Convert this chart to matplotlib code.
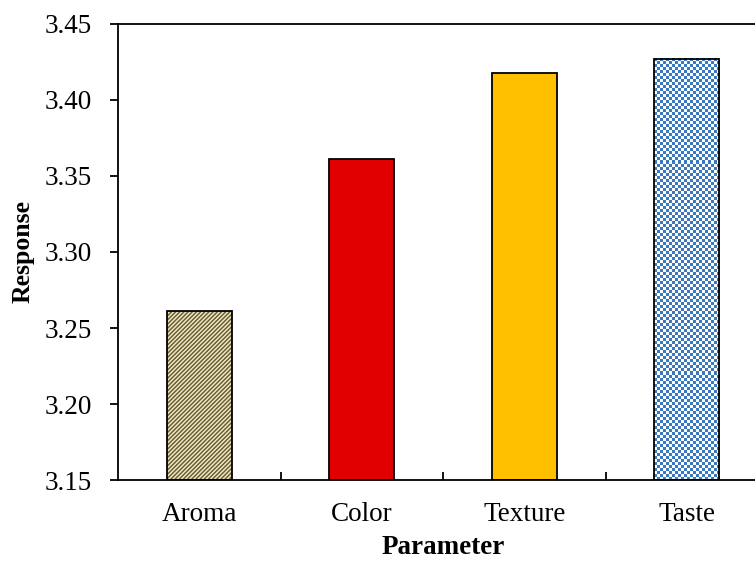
import numpy as np
import matplotlib
matplotlib.use('Agg')
import matplotlib.pyplot as plt
from matplotlib.colors import ListedColormap

categories = ['Aroma', 'Color', 'Texture', 'Taste']
responses = [3.261, 3.361, 3.418, 3.427]

face_colors = ['#f3ecd0', '#e00000', '#ffc000', '#ffffff']
hatch_colors = ['#6b5f30', None, None, '#3a78c4']
patterns = ['stripes', None, None, 'checker']

plt.rcParams['font.family'] = ['Liberation Serif', 'DejaVu Serif']
plt.rcParams['hatch.linewidth'] = 1.1

fig = plt.figure(figsize=(7.55, 5.63), dpi=100)
ax = fig.add_axes([0.1563, 0.1474, 0.861, 0.81])

ymin = 3.15
x = np.arange(len(categories))
for xi, val, fc, hc, p in zip(x, responses, face_colors, hatch_colors, patterns):
    if p == 'stripes':
        ax.bar(xi, val - ymin, bottom=ymin, width=0.4, color=fc,
               edgecolor=hc, hatch='////////', linewidth=0, zorder=2)
    elif p == 'checker':
        # small checkerboard fill, about 3 px per square
        nx, ny = 22, 140
        board = (np.add.outer(np.arange(ny), np.arange(nx)) % 2)
        ax.imshow(board, cmap=ListedColormap([fc, hc]), aspect='auto',
                  interpolation='nearest', origin='lower',
                  extent=(xi - 0.2, xi + 0.2, ymin, val), zorder=2)
    else:
        ax.bar(xi, val - ymin, bottom=ymin, width=0.4, color=fc,
               linewidth=0, zorder=2)
    ax.bar(xi, val - ymin, bottom=ymin, width=0.4, fill=False,
           edgecolor='black', linewidth=1.3, zorder=3)

ax.set_xlim(-0.5, 3.5)
ax.set_ylim(3.15, 3.45)
yt = np.arange(3.15, 3.4501, 0.05)
ax.set_yticks(yt)
ax.set_yticklabels(['%.2f' % v for v in yt])
ax.set_xticks(x)
ax.set_xticklabels(categories)
ax.set_xticks([0.5, 1.5, 2.5], minor=True)

ax.tick_params(axis='y', direction='out', length=6, width=1.3, labelsize=19.5, pad=13)
ax.tick_params(axis='x', which='major', length=0, labelsize=19.5, pad=16)
ax.tick_params(axis='x', which='minor', direction='in', length=6, width=1.3)

for s in ax.spines.values():
    s.set_linewidth(1.3)

ax.set_xlabel('Parameter', fontsize=19.5, fontweight='bold')
ax.xaxis.label.set_va('baseline')
ax.xaxis.set_label_coords(0.5, -0.163)
ax.set_ylabel('Response', fontsize=18.5, fontweight='bold', labelpad=7)

fig.savefig('out.png', dpi=100)
